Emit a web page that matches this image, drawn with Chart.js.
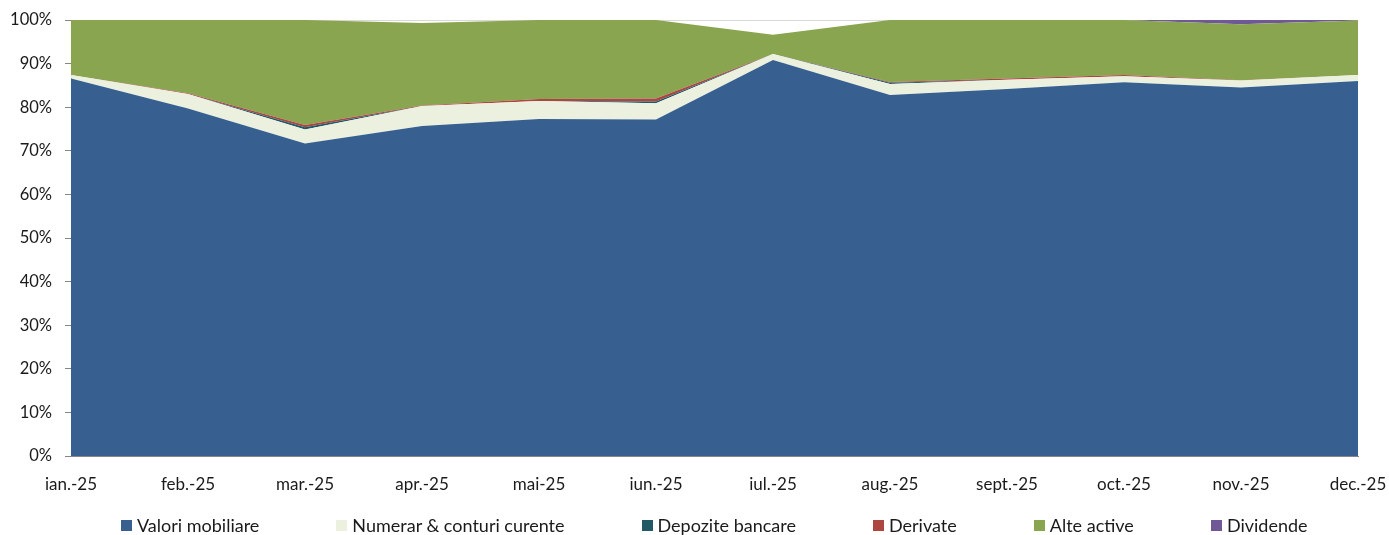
<!DOCTYPE html>
<html>
<head>
<meta charset="utf-8">
<script src="https://cdn.jsdelivr.net/npm/chart.js@4"></script>
<style>
  html, body { margin: 0; padding: 0; background: #fff; }
  #wrap { position: relative; width: 1389px; height: 535px; }
  #legend {
    position: absolute; left: 121px; top: 514px; height: 22px;
    display: flex; align-items: center;
    font-family: Lato, sans-serif; font-size: 18px; color: #1a1a1a;
    white-space: nowrap;
  }
  #legend .item { display: flex; align-items: center; margin-right: 77px; }
  #legend .box { width: 11px; height: 11px; margin-right: 5px; }
</style>
</head>
<body>
<div id="wrap">
  <canvas id="chart-canvas" width="1389" height="535"></canvas>
  <div id="legend"></div>
</div>
<script>
const months = ['ian.-25', 'feb.-25', 'mar.-25', 'apr.-25', 'mai-25', 'iun.-25',
                'iul.-25', 'aug.-25', 'sept.-25', 'oct.-25', 'nov.-25', 'dec.-25']

// shares of total assets, in %
const valoriMobiliare = [86.6, 79.7, 71.7, 75.7, 77.3, 77.2, 90.8, 82.8, 84.2, 85.7, 84.5, 86.0]
const numerar         = [0.8, 3.3, 3.2, 4.6, 4.1, 3.7, 1.4, 2.5, 2.1, 1.4, 1.6, 1.4]
const depozite        = [0, 0, 0.5, 0, 0, 0.4, 0, 0.3, 0, 0, 0, 0]
const derivate        = [0, 0.2, 0.5, 0.1, 0.5, 0.7, 0, 0.2, 0.3, 0.3, 0.1, 0]
const alteActive      = [12.6, 16.8, 24.1, 18.9, 18.1, 18.0, 4.4, 14.2, 13.4, 12.6, 12.8, 12.5]
const dividende       = [0, 0, 0, 0, 0, 0, 0, 0, 0, 0, 1.0, 0.1]

const yTicks = [0, 10, 20, 30, 40, 50, 60, 70, 80, 90, 100]

const series = [
    { label: 'Valori mobiliare', data: valoriMobiliare, color: '#376091' },
    { label: 'Numerar & conturi curente', data: numerar, color: '#EBF1DE' },
    { label: 'Depozite bancare', data: depozite, color: '#215967' },
    { label: 'Derivate', data: derivate, color: '#AD4541' },
    { label: 'Alte active', data: alteActive, color: '#8AA54F' },
    { label: 'Dividende', data: dividende, color: '#705796' }
]

new Chart(document.getElementById('chart-canvas'), {
    type: 'line',
    data: {
        labels: months,
        datasets: series.map((s, i) => ({
            label: s.label,
            data: s.data,
            backgroundColor: s.color,
            borderColor: s.color,
            borderWidth: 0,
            pointRadius: 0,
            tension: 0,
            fill: i === 0 ? 'origin' : '-1'
        }))
    },
    options: {
        responsive: false,
        animation: false,
        layout: { padding: { top: 20, right: 31, bottom: 39, left: 0 } },
        plugins: {
            legend: { display: false },
            tooltip: { enabled: false }
        },
        scales: {
            x: {
                offset: false,
                grid: { display: false, drawTicks: false },
                border: { color: '#868686' },
                ticks: { font: { family: 'Lato, sans-serif', size: 17 }, color: '#1a1a1a', padding: 18, maxRotation: 0, autoSkip: false },
                afterFit: (scale) => {
                    scale.height = 40
                    scale.paddingLeft = 0
                    scale.paddingRight = 0
                }
            },
            y: {
                stacked: true,
                min: 0,
                max: 100,
                afterBuildTicks: (scale) => { scale.ticks = yTicks.map((v) => ({ value: v })) },
                grid: { color: '#D9D9D9', tickColor: '#868686', tickLength: 6 },
                border: { color: '#868686' },
                ticks: { font: { family: 'Lato, sans-serif', size: 16.5 }, color: '#1a1a1a', padding: 13, callback: (v) => v + '%' },
                afterFit: (scale) => {
                    scale.width = 71
                    scale.paddingTop = 0
                    scale.paddingBottom = 0
                }
            }
        }
    }
})

const legend = document.getElementById('legend')
series.forEach((s) => {
    const item = document.createElement('div')
    item.className = 'item'
    const box = document.createElement('span')
    box.className = 'box'
    box.style.background = s.color
    const text = document.createElement('span')
    text.textContent = s.label
    item.appendChild(box)
    item.appendChild(text)
    legend.appendChild(item)
})
</script>
</body>
</html>
